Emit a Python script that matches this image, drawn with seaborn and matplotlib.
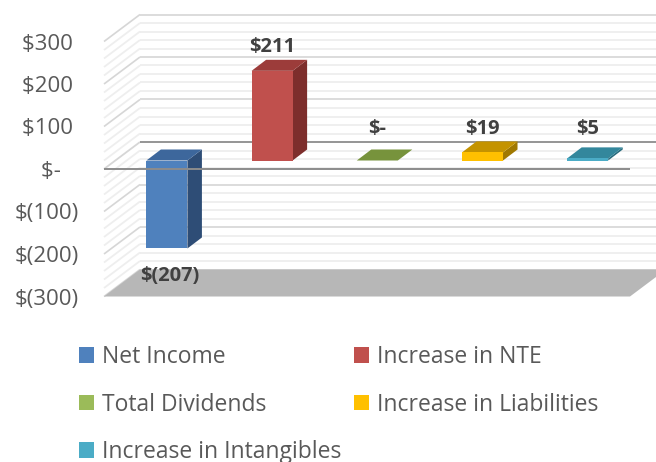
import matplotlib
matplotlib.use("Agg")
import matplotlib.pyplot as plt
import seaborn as sns
import pandas as pd
from matplotlib.patches import Polygon, Patch

# ---------------- data ----------------
categories = ["Net Income", "Increase in NTE", "Total Dividends",
              "Increase in Liabilities", "Increase in Intangibles"]
values = [-207, 211, 0, 19, 5]
value_labels = ["$(207)", "$211", "$-", "$19", "$5"]
tick_values = [300, 200, 100, 0, -100, -200, -300]
tick_labels = ["$300", "$200", "$100", "$-", "$(100)", "$(200)", "$(300)"]

# ---------------- style ----------------
front_colors = ["#4F81BD", "#C0504D", "#9BBB59", "#FFC000", "#4BACC6"]
top_colors = ["#3D679C", "#9C3C3A", "#77933C", "#C49300", "#33879C"]
side_colors = ["#2E4D76", "#7D2E2C", "#5E7630", "#A07800", "#276B7D"]

sns.set_theme(style="white")
plt.rcParams["font.family"] = ["Open Sans", "DejaVu Sans"]

W = (36, 27)    # depth of the chart box (px)
B = (10.3, 8.5)  # bar front plane offset from front wall (px)
D = (14.5, 11)  # bar depth (px)

fig = plt.figure(figsize=(6.56, 4.62), dpi=100)
ax = fig.add_axes([104 / 656, (462 - 296.5) / 462, 526 / 656, 255 / 462])

df = pd.DataFrame({"category": categories, "value": values})
sns.barplot(data=df, x="category", y="value", hue="category",
            order=categories, hue_order=categories, palette=front_colors,
            width=0.39, saturation=1, legend=False, ax=ax, linewidth=0,
            zorder=4)

ax.set_xlim(-0.5, 4.5)
ax.set_ylim(-300, 300)
ax.set_autoscale_on(False)
for s in ax.spines.values():
    s.set_visible(False)
ax.set_facecolor("none")
ax.set_xticks([])
ax.set_xlabel("")
ax.set_ylabel("")

bb = ax.get_window_extent()
sx = 5 / bb.width
sy = 600 / bb.height


def sh(x, y, off):
    return (x + off[0] * sx, y + off[1] * sy)


# back wall + left wall grid
for v in range(-300, 301, 20):
    if v == 0:
        col, lw, z = "#8C8C8C", 1.3, 1.5
    elif v % 100 == 0:
        col, lw, z = "#D6D6D6", 1.2, 1.2
    else:
        col, lw, z = "#EEEEEE", 1.3, 1.0
    p0 = sh(-0.5, v, W)
    p1 = sh(4.5, v, W)
    ax.plot([p0[0], p1[0]], [p0[1], p1[1]], color=col, lw=lw, zorder=z,
            clip_on=False, solid_capstyle="butt")
    lcol = "#D6D6D6" if v % 100 == 0 else "#EEEEEE"
    ax.plot([-0.5, p0[0]], [v, p0[1]], color=lcol, lw=lw, zorder=1.1,
            clip_on=False, solid_capstyle="butt")

# floor
floor = Polygon([(-0.5, -300), (4.5, -300), sh(4.5, -300, W), sh(-0.5, -300, W)],
                closed=True, facecolor="#B7B7B7", edgecolor="none", zorder=2,
                clip_on=False)
ax.add_patch(floor)

# 3D bars
for p in list(ax.patches):
    if p is floor:
        continue
    idx = int(round(p.get_x() + p.get_width() / 2))
    x0 = p.get_x() + B[0] * sx
    y0 = p.get_y() + B[1] * sy
    w = p.get_width()
    h = p.get_height()
    p.set_x(x0)
    p.set_y(y0)
    p.set_clip_on(False)
    top = max(y0, y0 + h)
    bot = min(y0, y0 + h)
    side = Polygon([(x0 + w, bot), (x0 + w, top), sh(x0 + w, top, D), sh(x0 + w, bot, D)],
                   closed=True, facecolor=side_colors[idx], edgecolor="none",
                   zorder=3.9, clip_on=False)
    topf = Polygon([(x0, top), (x0 + w, top), sh(x0 + w, top, D), sh(x0, top, D)],
                   closed=True, facecolor=top_colors[idx], edgecolor="none",
                   zorder=3.9, clip_on=False)
    ax.add_patch(side)
    ax.add_patch(topf)

# front zero line
ax.plot([-0.5, 4.5], [0, 0], color="#8C8C8C", lw=1.4, zorder=5, clip_on=False,
        solid_capstyle="butt")

# data labels
for i, (v, lab) in enumerate(zip(values, value_labels)):
    xc = i + B[0] * sx
    if v >= 0:
        y = max(v, 19) + (B[1] + 23.5) * sy
    else:
        xc += 3 * sx
        y = v + (B[1] - 28) * sy
    ax.text(xc, y, lab, ha="center", va="center", fontsize=14.5,
            fontweight="bold", color="#404040", zorder=6, clip_on=False)

# y ticks
padded = []
for t, v in zip(tick_labels, tick_values):
    if v > 0:
        padded.append(t + " ")
    elif v == 0:
        padded.append(t + "   ")
    else:
        padded.append(t)
ax.set_yticks(tick_values)
ax.set_yticklabels(padded)
ax.tick_params(axis="y", length=0, pad=18.4, labelsize=16, labelcolor="#595959")
ax.grid(False)

# legend (row-major order like the reference)
order = [0, 2, 4, 1, 3]
handles = [Patch(facecolor=front_colors[i], edgecolor="none") for i in order]
labels = [categories[i] for i in order]
fig.legend(handles, labels, ncol=2, loc="upper left",
           bbox_to_anchor=(79 / 656, (462 - 345) / 462), frameon=False,
           fontsize=16.5, handlelength=0.655, handleheight=0.655,
           handletextpad=0.34, labelspacing=1.03, columnspacing=0.55,
           borderpad=0, borderaxespad=0, labelcolor="#595959")

fig.savefig("out.png", dpi=100)
